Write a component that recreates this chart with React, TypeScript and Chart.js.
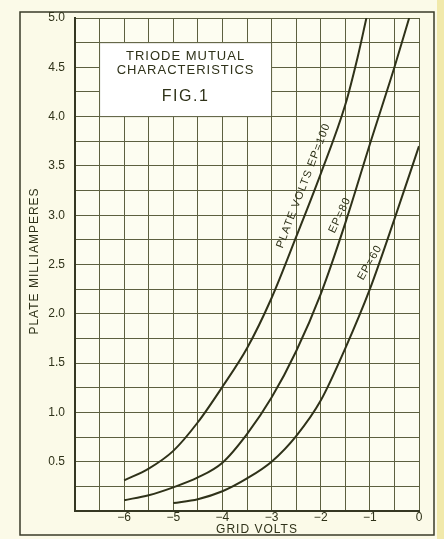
import React, { useEffect, useRef } from "react";
import { Chart, registerables } from "chart.js";

Chart.register(...registerables);

// ---- Data ----
const GRID_VOLTS_EP100 = [-6, -5.5, -5, -4.5, -4, -3.5, -3, -2.5, -2, -1.5, -1.25, -1.07];
const PLATE_MA_EP100 = [0.31, 0.43, 0.61, 0.9, 1.26, 1.65, 2.16, 2.78, 3.42, 4.12, 4.6, 5.0];

const GRID_VOLTS_EP80 = [-6, -5.5, -5, -4.5, -4, -3.5, -3, -2.5, -2, -1.5, -1, -0.5, -0.2];
const PLATE_MA_EP80 = [0.11, 0.16, 0.24, 0.34, 0.49, 0.78, 1.15, 1.62, 2.2, 2.92, 3.72, 4.5, 5.0];

const GRID_VOLTS_EP60 = [-5, -4.5, -4, -3.5, -3, -2.5, -2, -1.5, -1, -0.5, 0];
const PLATE_MA_EP60 = [0.08, 0.12, 0.2, 0.33, 0.5, 0.76, 1.12, 1.65, 2.25, 2.96, 3.7];

const X_TICK_VALUES = [-6, -5, -4, -3, -2, -1, 0];
const X_TICK_LABELS = ["\u22126", "\u22125", "\u22124", "\u22123", "\u22122", "\u22121", "0"];
const Y_TICK_VALUES = [0.5, 1, 1.5, 2, 2.5, 3, 3.5, 4, 4.5, 5];
const Y_TICK_LABELS = ["0.5", "1.0", "1.5", "2.0", "2.5", "3.0", "3.5", "4.0", "4.5", "5.0"];

const CURVE_LABELS = ["PLATE VOLTS EP=100", "EP=80", "EP=60"];
const TITLE_LINES = ["TRIODE MUTUAL", "CHARACTERISTICS", "FIG.1"];
const X_TITLE = "GRID VOLTS";
const Y_TITLE = "PLATE MILLIAMPERES";

const INK = "#2f3219";
const GRID = "#5d6040";
const FONT = "'Liberation Sans', Arial, sans-serif";

const toPoints = (xs: number[], ys: number[]) => xs.map((x, i) => ({ x, y: ys[i] }));

export default function App() {
  const ref = useRef<HTMLCanvasElement | null>(null);

  useEffect(() => {
    document.body.style.margin = "0";
    const canvas = ref.current;
    if (!canvas) return;

    const paper = {
      id: "paper",
      beforeDraw(chart: any) {
        const { ctx, width, height, chartArea } = chart;
        ctx.save();
        ctx.fillStyle = "#fbfae8";
        ctx.fillRect(0, 0, width, height);
        ctx.fillStyle = "#f1e9ab";
        ctx.fillRect(437, 0, width - 437, height);
        ctx.fillStyle = "#fdfdf1";
        ctx.fillRect(chartArea.left, chartArea.top, chartArea.right - chartArea.left, chartArea.bottom - chartArea.top);
        ctx.strokeStyle = "#3a3b28";
        ctx.lineWidth = 1.5;
        ctx.strokeRect(20, 12, 414, 523);
        ctx.restore();
      },
    };

    const titleBox = {
      id: "titleBox",
      beforeDatasetsDraw(chart: any) {
        const { ctx } = chart;
        const xs = chart.scales.x;
        const ys = chart.scales.y;
        const x0 = xs.getPixelForValue(-6.5);
        const x1 = xs.getPixelForValue(-3);
        const y0 = ys.getPixelForValue(4.75);
        const y1 = ys.getPixelForValue(4.0);
        ctx.save();
        ctx.fillStyle = "#ffffff";
        ctx.fillRect(x0, y0, x1 - x0, y1 - y0);
        ctx.strokeStyle = GRID;
        ctx.lineWidth = 1;
        ctx.strokeRect(x0, y0, x1 - x0, y1 - y0);
        ctx.fillStyle = INK;
        ctx.textAlign = "center";
        ctx.textBaseline = "middle";
        const cx = (x0 + x1) / 2;
        ctx.font = `13px ${FONT}`;
        (ctx as any).letterSpacing = "1px";
        ctx.fillText(TITLE_LINES[0], cx, y0 + 14);
        ctx.fillText(TITLE_LINES[1], cx, y0 + 28);
        ctx.font = `16px ${FONT}`;
        (ctx as any).letterSpacing = "1.5px";
        ctx.fillText(TITLE_LINES[2], cx, y0 + 54);
        ctx.restore();
      },
    };

    const curveLabels = {
      id: "curveLabels",
      afterDatasetsDraw(chart: any) {
        const { ctx } = chart;
        const xs = chart.scales.x;
        const ys = chart.scales.y;
        const specs = [
          { text: CURVE_LABELS[0], x: -2.35, y: 3.3, a: -69 },
          { text: CURVE_LABELS[1], x: -1.61, y: 3.0, a: -65 },
          { text: CURVE_LABELS[2], x: -1.0, y: 2.52, a: -60 },
        ];
        ctx.save();
        ctx.fillStyle = INK;
        ctx.font = `11px ${FONT}`;
        (ctx as any).letterSpacing = "1px";
        ctx.textAlign = "center";
        ctx.textBaseline = "middle";
        for (const s of specs) {
          ctx.save();
          ctx.translate(xs.getPixelForValue(s.x), ys.getPixelForValue(s.y));
          ctx.rotate((s.a * Math.PI) / 180);
          ctx.fillText(s.text, 0, 0);
          ctx.restore();
        }
        ctx.restore();
      },
    };

    const axisTitles = {
      id: "axisTitles",
      afterDraw(chart: any) {
        const { ctx } = chart;
        ctx.save();
        ctx.fillStyle = INK;
        ctx.font = `12px ${FONT}`;
        (ctx as any).letterSpacing = "1px";
        ctx.textAlign = "center";
        ctx.textBaseline = "middle";
        ctx.fillText(X_TITLE, 257, 530);
        ctx.translate(35, 261);
        ctx.rotate(-Math.PI / 2);
        ctx.fillText(Y_TITLE, 0, 0);
        ctx.restore();
      },
    };

    const lineStyle = {
      borderColor: INK,
      borderWidth: 2,
      pointRadius: 0,
      fill: false,
      cubicInterpolationMode: "monotone" as const,
    };

    const chart = new Chart(canvas, {
      type: "line",
      data: {
        datasets: [
          { label: "EP=100", data: toPoints(GRID_VOLTS_EP100, PLATE_MA_EP100), ...lineStyle },
          { label: "EP=80", data: toPoints(GRID_VOLTS_EP80, PLATE_MA_EP80), ...lineStyle },
          { label: "EP=60", data: toPoints(GRID_VOLTS_EP60, PLATE_MA_EP60), ...lineStyle },
        ],
      },
      options: {
        animation: false,
        responsive: false,
        devicePixelRatio: 1,
        layout: { padding: { left: 0, right: 25, top: 18, bottom: 0 } },
        plugins: { legend: { display: false }, tooltip: { enabled: false }, title: { display: false } },
        scales: {
          x: {
            type: "linear",
            min: -7,
            max: 0,
            afterFit: (s: any) => {
              s.height = 28;
            },
            ticks: {
              stepSize: 0.5,
              autoSkip: false,
              maxRotation: 0,
              padding: -1,
              color: INK,
              font: { family: FONT, size: 12 },
              callback: (v: any) => {
                const i = X_TICK_VALUES.findIndex((t) => Math.abs(t - Number(v)) < 1e-6);
                return i >= 0 ? X_TICK_LABELS[i] : "";
              },
            },
            grid: { color: GRID, lineWidth: 1, drawTicks: false },
            border: { display: true, color: "#353722", width: 2 },
          },
          y: {
            type: "linear",
            min: 0,
            max: 5,
            afterFit: (s: any) => {
              s.width = 75;
            },
            ticks: {
              stepSize: 0.25,
              autoSkip: false,
              padding: 10,
              color: INK,
              font: { family: FONT, size: 12 },
              callback: (v: any) => {
                const i = Y_TICK_VALUES.findIndex((t) => Math.abs(t - Number(v)) < 1e-6);
                return i >= 0 ? Y_TICK_LABELS[i] : "";
              },
            },
            grid: { color: GRID, lineWidth: 1, drawTicks: false },
            border: { display: true, color: "#353722", width: 2 },
          },
        },
      },
      plugins: [paper, titleBox, curveLabels, axisTitles],
    });

    return () => chart.destroy();
  }, []);

  return (
    <div style={{ position: "fixed", left: 0, top: 0, width: 444, height: 539 }}>
      <canvas ref={ref} width={444} height={539} style={{ display: "block", width: 444, height: 539 }} />
    </div>
  );
}
